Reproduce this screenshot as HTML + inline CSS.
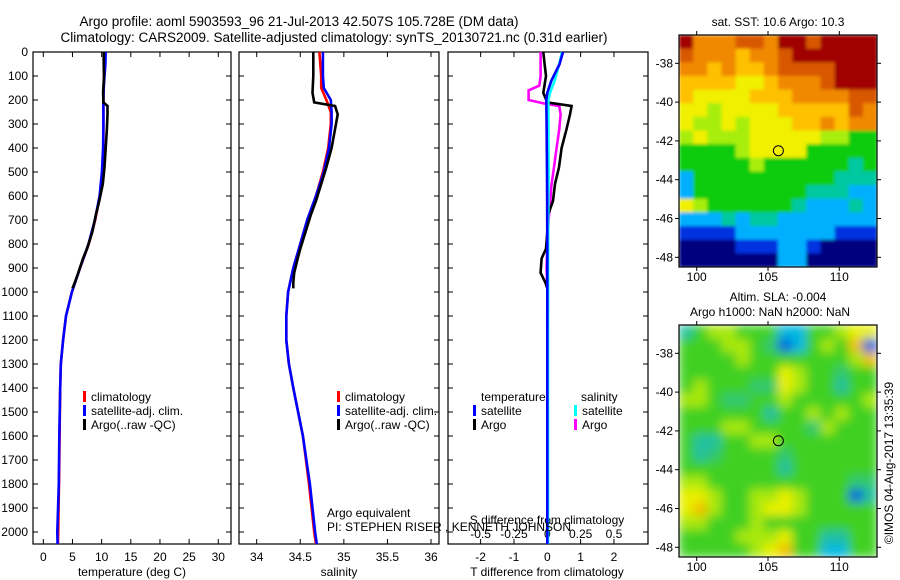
<!DOCTYPE html>
<html><head><meta charset="utf-8"><style>
body{margin:0;background:#fff}
svg{display:block;font-family:"Liberation Sans",sans-serif}
text{fill:#000}
</style></head><body>
<svg id="fig" width="900" height="580" xmlns="http://www.w3.org/2000/svg">
<defs>
<filter id="blur" x="0" y="0" width="1" height="1"><feGaussianBlur stdDeviation="5" edgeMode="duplicate"/></filter>
<filter id="blur2" x="0" y="0" width="1" height="1"><feGaussianBlur stdDeviation="1.5" edgeMode="duplicate"/></filter>
<clipPath id="c1"><rect x="679" y="35" width="198" height="232"/></clipPath>
<clipPath id="c2"><rect x="679" y="325" width="198" height="232"/></clipPath>
</defs>
<text x="299" y="26" font-size="13.5" text-anchor="middle">Argo profile: aoml 5903593_96 21-Jul-2013 42.507S 105.728E (DM data)</text>
<text x="334" y="42" font-size="13.5" text-anchor="middle">Climatology: CARS2009. Satellite-adjusted climatology: synTS_20130721.nc (0.31d earlier)</text>
<g id="g"></g>
</svg>
<script>
// ---- data ----
const tempDepth=[0,50,100,150,200,250,300,400,500,600,700,800,900,1000,1100,1200,1300,1400,1600,1800,2000,2050];
const tempClim=[10.4,10.4,10.4,10.35,10.3,10.3,10.3,10.3,10.1,9.7,8.9,7.8,6.3,4.9,3.9,3.4,3.0,2.9,2.8,2.7,2.55,2.5];
const tempSat=[10.7,10.65,10.5,10.35,10.3,10.3,10.3,10.25,10.05,9.65,8.85,7.75,6.3,4.9,3.9,3.4,3.0,2.9,2.75,2.65,2.4,2.45];
const argoDepth=[0,50,100,170,210,225,260,320,400,480,550,620,680,750,820,860,920,960,985];
const argoTemp=[10.35,10.35,10.4,10.25,10.3,11.0,11.0,10.9,10.7,10.5,10.2,9.6,9.0,8.4,7.5,6.8,6.0,5.4,5.0];
const salClim=[34.72,34.73,34.74,34.74,34.8,34.85,34.85,34.82,34.76,34.68,34.58,34.5,34.42,34.36,34.34,34.34,34.37,34.42,34.53,34.6,34.66,34.68];
const salSat=[34.76,34.76,34.76,34.77,34.85,34.86,34.86,34.83,34.77,34.68,34.58,34.5,34.42,34.36,34.34,34.34,34.37,34.42,34.53,34.61,34.67,34.69];
const argoSal=[34.65,34.65,34.65,34.64,34.66,34.9,34.93,34.9,34.86,34.8,34.74,34.68,34.62,34.56,34.5,34.47,34.43,34.42,34.42];
const diffDepth=[0,50,120,170,200,300,500,800,1200,2050];
const dTsat=[0.47,0.37,0.12,0.0,-0.03,-0.02,-0.01,0.0,0.0,0.0];
const dSsat=[0.11,0.09,0.055,0.02,0.008,0.008,0.01,0.006,0.005,0.005];
const dTargo=[-0.12,-0.08,-0.04,-0.12,0.0,0.73,0.68,0.58,0.43,0.35,0.23,0.17,0.02,0.0,-0.04,-0.17,-0.2,-0.06,0.0];
const dDepthS=[0,100,140,160,200,215,225,260,320,400,480,560,640,700,800,900,985];
const dSargo=[-0.05,-0.05,-0.06,-0.14,-0.14,-0.02,0.09,0.1,0.09,0.07,0.05,0.03,0.02,0.01,0.0,-0.005,0.0];
const depthTicks=[0,100,200,300,400,500,600,700,800,900,1000,1100,1200,1300,1400,1500,1600,1700,1800,1900,2000];
const tTicks=[0,5,10,15,20,25,30];
const sTicks=[34,34.5,35,35.5,36];
const sTickLabels=["34","34.5","35","35.5","36"];
const dtTicks=[-2,-1,0,1,2];
const dsTicks=[-0.5,-0.25,0,0.25,0.5];
const dsTickLabels=["-0.5","-0.25","0","0.25","0.5"];
const lonTicks=[100,105,110];
const latTicks=[-38,-40,-42,-44,-46,-48];
const sstGrid=["a888998aa9aaaa","98887889aaaaaa","88787789999aaa","77776678889aaa","76666777888899","66566667777798","65565666778788","56555666665544","44445666644444","44444544444434","24444444444333","24444444433322","65444444322232","22232332222222","11112222222111","00001112210000","00000002200000"];
const slaGrid=["24554441144566","44455430145470","44445444444457","44444446544344","45444336544244","55433445444445","44444424454544","44455444435444","42244554444444","42344443444444","44444442444444","55444444444433","66544556544402","67544566544444","55444544444444","44445556442244","44444567441144"];
const argoLon=105.728, argoLat=-42.507;
// ---- scales ----
const yD=d=>52+d*0.24;
const xT=t=>43.3+t*5.833;
const xS=s=>256.7+(s-34)*87.15;
const xDT=v=>547.3+v*33.33;
const xDS=v=>547.3+v*133.3;
const xLon=l=>696.7+(l-100)*14.26;
const yLat1=l=>63.3+(-38-l)*19.4;
const yLat2=l=>353.3+(-38-l)*19.4;
const NS="http://www.w3.org/2000/svg";
const G=document.getElementById('g');
function mk(tag,attrs,txt){const e=document.createElementNS(NS,tag);for(const k in attrs)e.setAttribute(k,attrs[k]);if(txt!==undefined)e.textContent=txt;G.appendChild(e);return e;}
function line(xs,ds,fx,color,name){
  const pts=xs.map((v,i)=>fx(v).toFixed(1)+','+yD(ds[i]).toFixed(1)).join(' ');
  const p=mk('polyline',{points:pts,fill:'none',stroke:color,'stroke-width':2.6});
  
  
}
function frame(x,w,name){
  const r=mk('rect',{x:x,y:52,width:w,height:492,fill:'none',stroke:'#000','stroke-width':1.2});
  
  
  depthTicks.forEach(d=>{mk('line',{x1:x,x2:x+5,y1:yD(d),y2:yD(d),stroke:'#000'});mk('line',{x1:x+w-5,x2:x+w,y1:yD(d),y2:yD(d),stroke:'#000'});});
}
function txt(x,y,s,anchor,size,name){
  const t=mk('text',{x:x,y:y,'font-size':size||12,'text-anchor':anchor||'start'},s);
  
  
  return t;
}
// panel frames
frame(33,198,'temperature-panel');
frame(239,200,'salinity-panel');
frame(448,200,'difference-panel');
depthTicks.forEach(d=>{txt(28,yD(d)+4,String(d),'end',12,'depth-tick-label');});
// x ticks
tTicks.forEach(t=>{mk('line',{x1:xT(t),x2:xT(t),y1:544,y2:539,stroke:'#000'});mk('line',{x1:xT(t),x2:xT(t),y1:52,y2:57,stroke:'#000'});txt(xT(t),561,String(t),'middle',12,'temperature-tick-label');});
sTicks.forEach((s,i)=>{mk('line',{x1:xS(s),x2:xS(s),y1:544,y2:539,stroke:'#000'});mk('line',{x1:xS(s),x2:xS(s),y1:52,y2:57,stroke:'#000'});txt(xS(s),561,sTickLabels[i],'middle',12,'salinity-tick-label');});
dtTicks.forEach(t=>{mk('line',{x1:xDT(t),x2:xDT(t),y1:544,y2:539,stroke:'#000'});if(t!==0)mk('line',{x1:xDT(t),x2:xDT(t),y1:52,y2:57,stroke:'#000'});txt(xDT(t),561,String(t),'middle',12,'t-diff-tick-label');});
dsTicks.forEach((s,i)=>{txt(xDS(s),538,dsTickLabels[i],'middle',12,'s-diff-tick-label');});
txt(132,576,'temperature (deg C)','middle',12,'temperature-axis-title');
txt(339,576,'salinity','middle',12,'salinity-axis-title');
txt(547,576,'T difference from climatology','middle',12,'t-diff-axis-title');
txt(547,524,'S difference from climatology','middle',12,'s-diff-axis-title');
// series
line(tempClim,tempDepth,xT,'#ff0000','temp-climatology-line');
line(tempSat,tempDepth,xT,'#0000ff','temp-satellite-line');
line(argoTemp,argoDepth,xT,'#000000','temp-argo-line');
line(salClim,tempDepth,xS,'#ff0000','sal-climatology-line');
line(salSat,tempDepth,xS,'#0000ff','sal-satellite-line');
line(argoSal,argoDepth,xS,'#000000','sal-argo-line');
line(dSargo,dDepthS,xDS,'#ff00ff','s-diff-argo-line');
line(dTargo,argoDepth,xDT,'#000000','t-diff-argo-line');
line(dSsat,diffDepth,xDS,'#00ffff','s-diff-satellite-line');
line(dTsat,diffDepth,xDT,'#0000ff','t-diff-satellite-line');
// legends
function leg(x,y,color,label,name){
  const r=mk('rect',{x:x,y:y-6,width:3,height:11,fill:color});
  
  
  txt(x+8,y+4,label,'start',12,name);
}
leg(83,397,'#ff0000','climatology','legend-climatology');
leg(83,411,'#0000ff','satellite-adj. clim.','legend-satellite');
leg(83,425,'#000000','Argo(..raw -QC)','legend-argo');
leg(337,397,'#ff0000','climatology','legend-sal-climatology');
leg(337,411,'#0000ff','satellite-adj. clim.','legend-sal-satellite');
leg(337,425,'#000000','Argo(..raw -QC)','legend-sal-argo');
txt(481,401,'temperature','start',12,'legend-temperature-heading');
txt(581,401,'salinity','start',12,'legend-salinity-heading');
leg(473,411,'#0000ff','satellite','legend-t-satellite');
leg(473,425,'#000000','Argo','legend-t-argo');
leg(574,411,'#00ffff','satellite','legend-s-satellite');
leg(574,425,'#ff00ff','Argo','legend-s-argo');
txt(327,517,'Argo equivalent','start',12,'argo-equivalent-note');
txt(327,531,'PI: STEPHEN RISER , KENNETH JOHNSON','start',12,'pi-note');
// maps
const sstCol={'0':'#00007f','1':'#0030e0','2':'#00b0ff','3':'#00c8a0','4':'#10cc10','5':'#a8ee10','6':'#f0f000','7':'#ffc000','8':'#f08800','9':'#d85800','a':'#a00000'};
const slaCol={'0':'#0060e0','1':'#00b8e0','2':'#20c0a0','3':'#30c870','4':'#40d020','5':'#a8e810','6':'#e8f000','7':'#f0c000'};
function drawMap(grid,cols,y0,clip,filt,name){
  const g=document.createElementNS(NS,'g');g.setAttribute('clip-path','url(#'+clip+')');
  
  
  const inner=document.createElementNS(NS,'g');inner.setAttribute('filter','url(#'+filt+')');
  const ch=232/grid.length;
  grid.forEach((row,ri)=>{const cw=198/row.length;for(let ci=0;ci<row.length;ci++){const r=document.createElementNS(NS,'rect');r.setAttribute('x',679+ci*cw);r.setAttribute('y',y0+ri*ch);r.setAttribute('width',cw+0.6);r.setAttribute('height',ch+0.6);r.setAttribute('fill',cols[row[ci]]);inner.appendChild(r);}});
  g.appendChild(inner);G.appendChild(g);
  const f=mk('rect',{x:679,y:y0,width:198,height:232,fill:'none',stroke:'#000','stroke-width':1.2});
  
  
}
drawMap(sstGrid,sstCol,35,'c1','blur2','sst-map');
drawMap(slaGrid,slaCol,325,'c2','blur','sla-map');
[[35,yLat1,281],[325,yLat2,571]].forEach(([y0,fy,ly])=>{
  lonTicks.forEach(l=>{mk('line',{x1:xLon(l),x2:xLon(l),y1:y0,y2:y0-4,stroke:'#000'});mk('line',{x1:xLon(l),x2:xLon(l),y1:y0+232,y2:y0+236,stroke:'#000'});txt(xLon(l),ly,String(l),'middle',12,'lon-tick-label');});
  latTicks.forEach(l=>{mk('line',{x1:675,x2:679,y1:fy(l),y2:fy(l),stroke:'#000'});mk('line',{x1:877,x2:881,y1:fy(l),y2:fy(l),stroke:'#000'});txt(673,fy(l)+4,String(l),'end',12,'lat-tick-label');});
  const c=mk('circle',{cx:xLon(argoLon),cy:fy(argoLat),r:5,fill:'none',stroke:'#000','stroke-width':1});
  
  
});
txt(778,26,'sat. SST: 10.6 Argo: 10.3','middle',12,'sst-map-title');
txt(778,301,'Altim. SLA: -0.004','middle',12,'sla-map-title');
txt(770,316,'Argo h1000: NaN h2000: NaN','middle',12,'sla-map-subtitle');
const v=txt(0,0,'©IMOS 04-Aug-2017 13:35:39','middle',12,'imos-credit');
v.setAttribute('transform','translate(893,463) rotate(-90)');
</script>
</body></html>
